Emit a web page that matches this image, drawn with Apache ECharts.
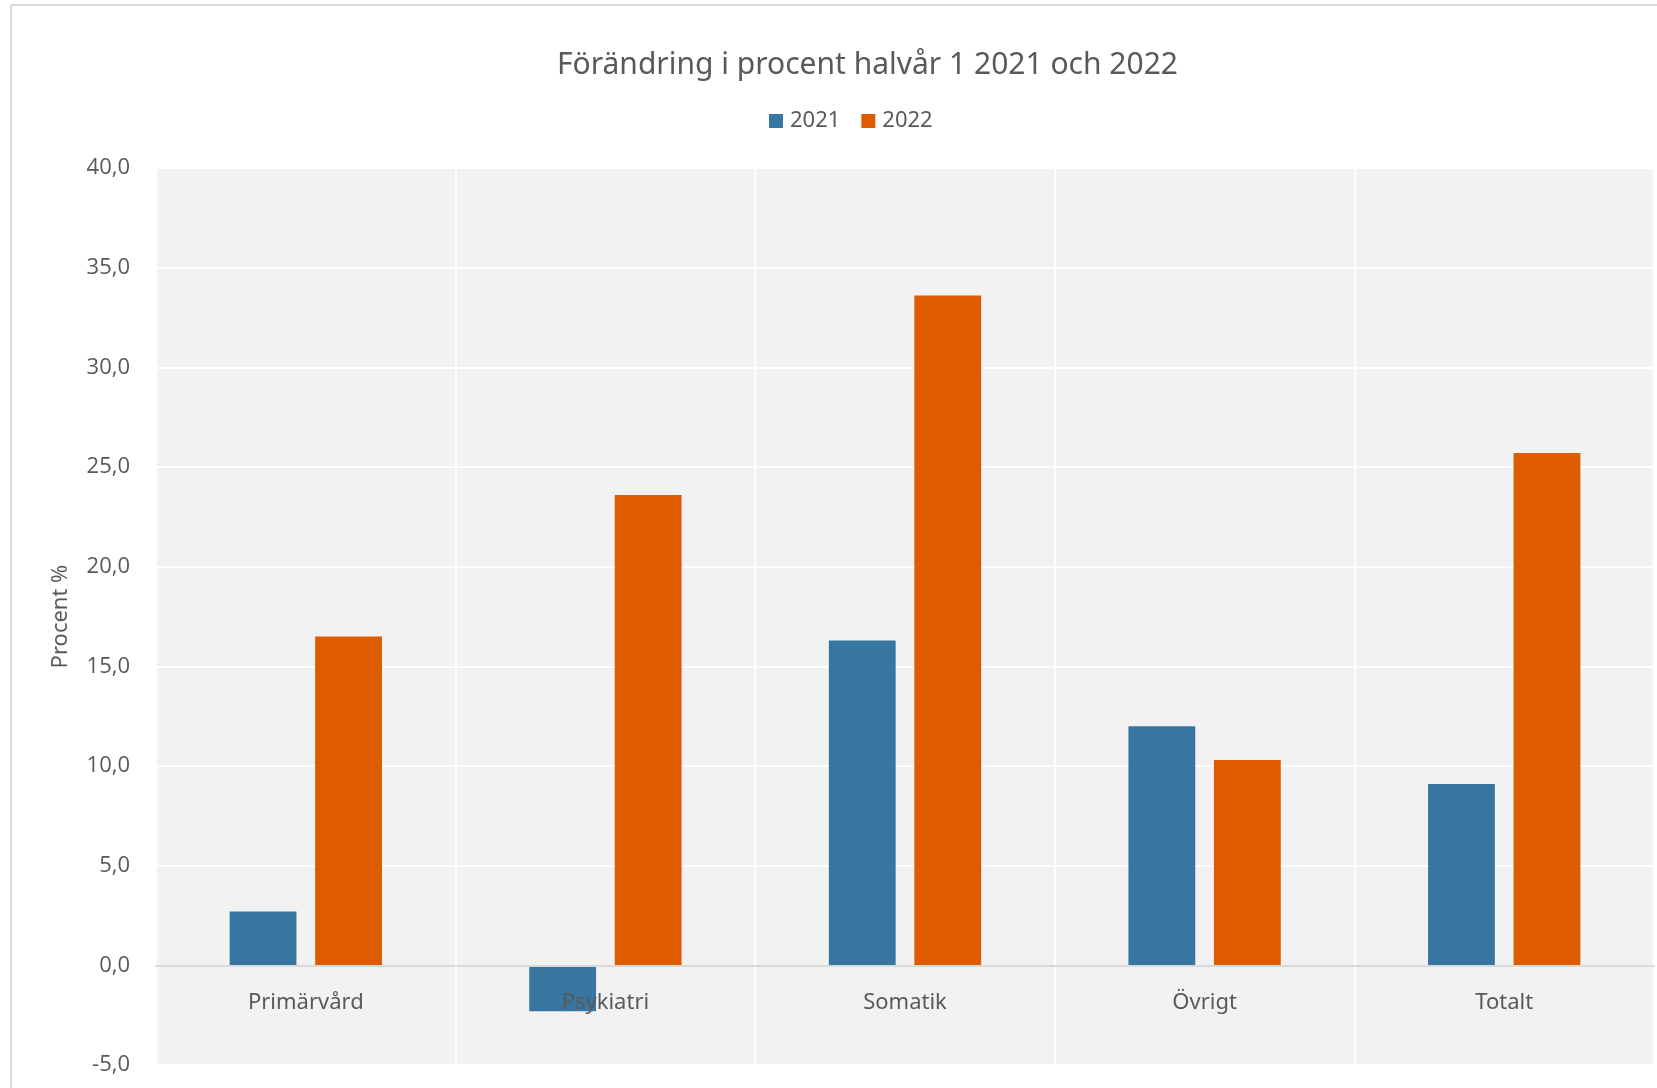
<!DOCTYPE html>
<html>
<head>
<meta charset="utf-8">
<script src="https://cdn.jsdelivr.net/npm/echarts@6/dist/echarts.min.js"></script>
<style>html,body{margin:0;padding:0;background:#fff}#c{width:1657px;height:1088px}</style>
</head>
<body>
<div id="c"></div>
<script>
const categories = ['Primärvård', 'Psykiatri', 'Somatik', 'Övrigt', 'Totalt'];
const values2021 = [2.7, -2.3, 16.3, 12.0, 9.1];
const values2022 = [16.5, 23.6, 33.6, 10.3, 25.7];
const seriesNames = ['2021', '2022'];
const yMin = -5, yMax = 40, yStep = 5;

const chart = echarts.init(document.getElementById('c'), null, {renderer: 'canvas'});
const font = 'Noto Sans, sans-serif';
const gridTop = 168, gridBottom = 23, H = 1088;
// distance from grid bottom to zero line
const zeroOffset = (H - gridTop - gridBottom) * (0 - yMin) / (yMax - yMin);
chart.setOption({
  backgroundColor: '#ffffff',
  animation: false,
  title: {
    text: 'Förändring i procent halvår 1 2021 och 2022',
    left: 552, top: 45,
    textStyle: {fontFamily: font, fontSize: 30, fontWeight: 'normal', color: '#595959'}
  },
  legend: {
    data: seriesNames,
    top: 105, left: 764,
    itemWidth: 14, itemHeight: 14, itemGap: 21,
    icon: 'rect',
    textStyle: {fontFamily: font, fontSize: 22, color: '#595959', padding: [0, 0, 0, 2]}
  },
  graphic: [
    {type: 'line', shape: {x1: 11, y1: 5, x2: 1657, y2: 5}, style: {stroke: '#D9D9D9', lineWidth: 2}},
    {type: 'line', shape: {x1: 11, y1: 5, x2: 11, y2: 1088}, style: {stroke: '#D9D9D9', lineWidth: 2}}
  ],
  grid: {
    left: 156, right: 3, top: gridTop, bottom: gridBottom,
    outerBoundsMode: 'none', containLabel: false,
    show: true, backgroundColor: '#F2F2F2', borderWidth: 0
  },
  xAxis: [{
    type: 'category', data: categories, z: 10,
    position: 'bottom', offset: -zeroOffset,
    axisLine: {onZero: false, lineStyle: {color: '#D9D9D9', width: 2}},
    axisTick: {show: false},
    axisLabel: {fontFamily: font, fontSize: 22, color: '#595959', margin: 26},
    splitLine: {show: false}
  }, {
    type: 'category', data: categories, position: 'bottom',
    axisLine: {show: false}, axisTick: {show: false}, axisLabel: {show: false},
    splitLine: {show: true, lineStyle: {color: '#FFFFFF', width: 2}}
  }],
  yAxis: {
    type: 'value', min: yMin, max: yMax, interval: yStep,
    name: 'Procent %', nameLocation: 'middle', nameGap: 84, nameRotate: 90,
    nameTextStyle: {fontFamily: font, fontSize: 22, color: '#595959'},
    axisLine: {show: false}, axisTick: {show: false},
    axisLabel: {fontFamily: 'Open Sans, sans-serif', fontSize: 22, color: '#595959', margin: 26,
      formatter: v => v.toFixed(1).replace('.', ',')},
    splitLine: {lineStyle: {color: '#FFFFFF', width: 2}}
  },
  series: [
    {name: seriesNames[0], type: 'bar', data: values2021, barWidth: '22.3%', barGap: '28%',
     itemStyle: {color: '#3776A1'}},
    {name: seriesNames[1], type: 'bar', data: values2022, barWidth: '22.3%', barGap: '28%',
     itemStyle: {color: '#DE5B00'}}
  ]
});
</script>
</body>
</html>
